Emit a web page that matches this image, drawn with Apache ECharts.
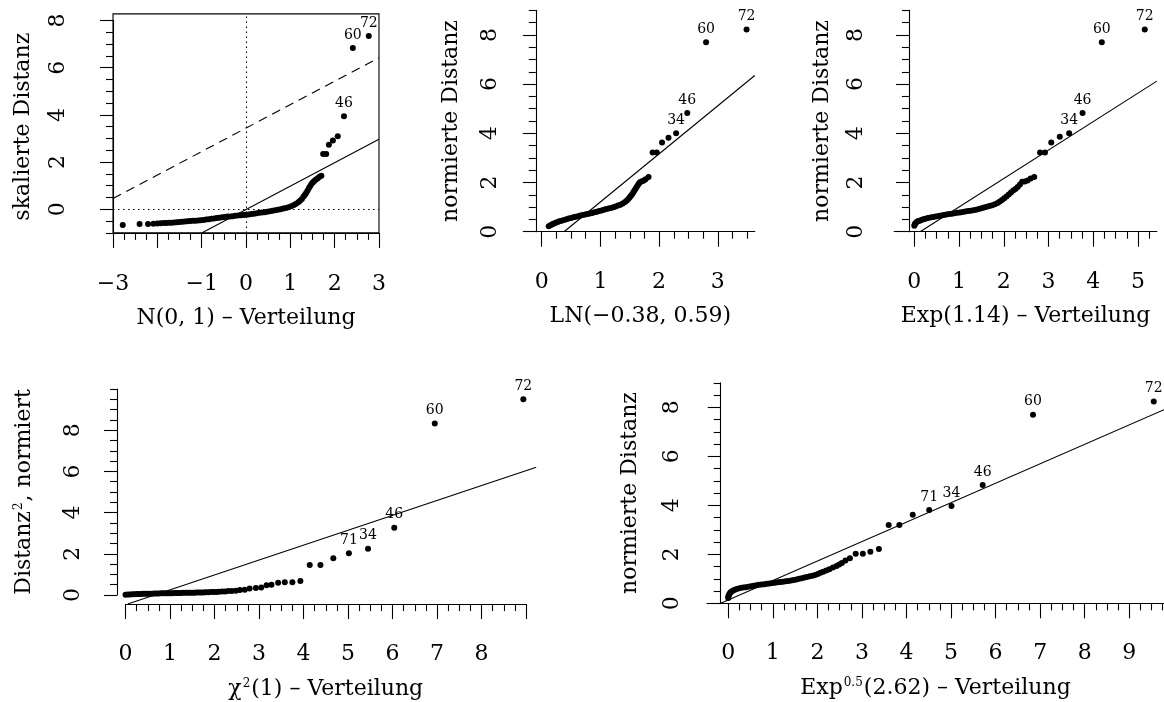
<!DOCTYPE html>
<html>
<head>
<meta charset="utf-8">
<script src="https://cdn.jsdelivr.net/npm/echarts@6.0.0/dist/echarts.min.js"></script>
<style>
  html, body { margin: 0; padding: 0; background: #fff; }
  #chart { width: 1164px; height: 702px; }
</style>
</head>
<body>
<div id="chart"></div>
<script>
var FONT = 'DejaVu Serif';

// --- N(0,1) panel: skalierte Distanz vs. normal quantiles
var normPts = [[-2.78,-0.66],[-2.40,-0.62],[-2.21,-0.62],[-2.09,-0.61],[-2.00,-0.60],[-1.93,-0.59],[-1.86,-0.585],[-1.80,-0.58],
  [-1.74,-0.57],[-1.68,-0.565],[-1.62,-0.555],[-1.56,-0.545],[-1.50,-0.54],[-1.44,-0.53],[-1.38,-0.52],[-1.32,-0.51],[-1.26,-0.50],
  [-1.20,-0.49],[-1.14,-0.48],[-1.08,-0.47],[-1.02,-0.46],[-0.96,-0.45],[-0.90,-0.43],[-0.84,-0.42],[-0.78,-0.40],[-0.72,-0.39],
  [-0.66,-0.37],[-0.60,-0.36],[-0.54,-0.34],[-0.48,-0.33],[-0.42,-0.31],[-0.36,-0.30],[-0.30,-0.29],[-0.24,-0.27],[-0.18,-0.26],
  [-0.12,-0.25],[-0.06,-0.24],[0.00,-0.23],[0.06,-0.22],[0.12,-0.20],[0.18,-0.19],[0.24,-0.17],[0.30,-0.15],[0.36,-0.14],
  [0.42,-0.12],[0.48,-0.10],[0.54,-0.08],[0.60,-0.06],[0.66,-0.04],[0.72,-0.02],[0.78,0.00],[0.84,0.03],[0.90,0.06],[0.96,0.09],
  [1.02,0.13],[1.08,0.18],[1.13,0.24],[1.18,0.30],[1.22,0.36],[1.26,0.44],[1.30,0.54],[1.33,0.62],[1.36,0.70],[1.39,0.80],
  [1.42,0.90],[1.45,0.99],[1.48,1.08],[1.51,1.15],[1.54,1.20],[1.58,1.26],[1.62,1.32],[1.66,1.38],[1.70,1.42],
  [1.74,2.34],[1.81,2.34],[1.87,2.73],[1.96,2.91],[2.07,3.10]];
var normIds = [[2.21,3.94,'46'],[2.41,6.83,'60'],[2.77,7.34,'72']];
var normFit = [[-1,-1.0],[3,2.97]];
var normUpper = [[-3,0.46],[3,6.42]];

// --- LN(-0.38, 0.59) panel
var lnPts = [[0.12,0.22],[0.15,0.26],[0.18,0.30],[0.21,0.33],[0.24,0.36],[0.27,0.39],[0.30,0.42],[0.34,0.45],[0.38,0.48],
  [0.42,0.51],[0.46,0.535],[0.50,0.56],[0.54,0.585],[0.58,0.61],[0.62,0.63],[0.66,0.655],[0.70,0.68],[0.74,0.70],[0.78,0.72],
  [0.82,0.74],[0.86,0.765],[0.90,0.79],[0.94,0.81],[0.98,0.84],[1.02,0.86],[1.06,0.89],[1.10,0.92],[1.14,0.94],[1.18,0.96],
  [1.22,0.99],[1.26,1.02],[1.30,1.06],[1.34,1.10],[1.38,1.15],[1.42,1.21],[1.45,1.27],[1.48,1.34],[1.50,1.40],[1.52,1.46],
  [1.54,1.52],[1.56,1.59],[1.58,1.67],[1.60,1.75],[1.62,1.83],[1.64,1.90],[1.66,1.97],[1.68,2.02],[1.71,2.05],[1.74,2.08],
  [1.77,2.13],[1.82,2.22],[1.89,3.22],[1.96,3.22],[2.05,3.63],[2.16,3.82]];
var lnIds = [[2.29,4.00,'34'],[2.48,4.83,'46'],[2.80,7.70,'60'],[3.49,8.22,'72']];
var lnFit = [[0.38,0],[3.63,6.35]];

// --- Exp(1.14) panel
var expPts = [[0.00,0.24],[0.01,0.29],[0.02,0.33],[0.04,0.37],[0.06,0.40],[0.09,0.43],[0.12,0.45],[0.16,0.48],[0.20,0.51],
  [0.25,0.53],[0.30,0.56],[0.36,0.58],[0.42,0.60],[0.48,0.62],[0.54,0.64],[0.60,0.66],[0.66,0.68],[0.72,0.70],[0.78,0.715],
  [0.84,0.73],[0.90,0.75],[0.96,0.77],[1.02,0.785],[1.08,0.80],[1.14,0.82],[1.20,0.84],[1.26,0.855],[1.32,0.87],[1.38,0.89],
  [1.44,0.92],[1.50,0.95],[1.56,0.98],[1.62,1.01],[1.68,1.04],[1.74,1.08],[1.80,1.12],[1.86,1.17],[1.91,1.23],[1.96,1.29],
  [2.01,1.36],[2.06,1.43],[2.11,1.51],[2.16,1.59],[2.21,1.67],[2.26,1.74],[2.31,1.82],[2.36,1.92],[2.41,2.03],[2.47,2.04],
  [2.53,2.08],[2.60,2.16],[2.68,2.22],[2.81,3.22],[2.92,3.22],[3.06,3.63],[3.25,3.86]];
var expIds = [[3.46,4.00,'34'],[3.76,4.83,'46'],[4.19,7.70,'60'],[5.15,8.22,'72']];
var expFit = [[0.13,0],[5.42,6.12]];

// --- chi^2(1) panel
var chiPts = [[0.00,0.01],[0.05,0.02],[0.10,0.03],[0.15,0.035],[0.20,0.04],[0.25,0.045],[0.30,0.05],[0.35,0.05],[0.40,0.055],
  [0.45,0.06],[0.50,0.06],[0.55,0.065],[0.60,0.065],[0.65,0.07],[0.70,0.07],[0.75,0.075],[0.80,0.08],[0.85,0.08],[0.90,0.085],
  [0.95,0.085],[1.00,0.09],[1.05,0.09],[1.10,0.095],[1.15,0.095],[1.20,0.10],[1.25,0.10],[1.30,0.105],[1.35,0.105],[1.40,0.11],
  [1.45,0.11],[1.50,0.115],[1.55,0.115],[1.60,0.12],[1.65,0.12],[1.70,0.125],[1.75,0.125],[1.80,0.13],[1.86,0.135],[1.92,0.14],
  [1.98,0.145],[2.04,0.15],[2.10,0.16],[2.17,0.165],[2.24,0.175],[2.31,0.19],[2.39,0.20],[2.48,0.21],[2.57,0.24],[2.68,0.26],
  [2.79,0.31],[2.93,0.34],[3.05,0.36],[3.17,0.47],[3.28,0.50],[3.43,0.59],[3.58,0.62],[3.75,0.62],[3.93,0.68],[4.14,1.46],
  [4.38,1.46],[4.67,1.79]];
var chiIds = [[5.02,2.03,'71'],[5.45,2.24,'34'],[6.04,3.26,'46'],[6.95,8.33,'60'],[8.94,9.50,'72']];
var chiFit = [[0.05,-0.44],[9.23,6.20]];

// --- Exp^0.5(2.62) panel
var sqPts = [[0.00,0.22],[0.00,0.27],[0.01,0.32],[0.02,0.37],[0.04,0.42],[0.06,0.46],[0.09,0.50],[0.12,0.53],[0.16,0.56],
  [0.21,0.59],[0.27,0.62],[0.33,0.64],[0.39,0.66],[0.45,0.68],[0.51,0.70],[0.57,0.72],[0.63,0.74],[0.69,0.755],[0.75,0.77],
  [0.81,0.78],[0.87,0.80],[0.93,0.81],[0.99,0.83],[1.05,0.84],[1.11,0.855],[1.17,0.87],[1.23,0.88],[1.29,0.90],[1.35,0.91],
  [1.41,0.93],[1.47,0.95],[1.53,0.97],[1.59,1.00],[1.65,1.02],[1.71,1.05],[1.77,1.07],[1.83,1.10],[1.89,1.12],[1.95,1.16],
  [2.01,1.20],[2.07,1.25],[2.13,1.29],[2.20,1.34],[2.27,1.39],[2.35,1.46],[2.43,1.52],[2.49,1.58],[2.55,1.64],[2.63,1.75],
  [2.73,1.84],[2.86,2.02],[3.02,2.02],[3.19,2.10],[3.38,2.22],[3.60,3.20],[3.84,3.20],[4.14,3.61]];
var sqIds = [[4.51,3.81,'71'],[5.01,3.97,'34'],[5.71,4.83,'46'],[6.84,7.70,'60'],[9.55,8.24,'72']];
var sqFit = [[-0.17,0],[9.78,7.90]];

// tick labels
var yMajor = [0, 2, 4, 6, 8];
var normXLabels = [-3, -1, 0, 1, 2, 3];
var lnXLabels = [0, 1, 2, 3];
var expXLabels = [0, 1, 2, 3, 4, 5];
var chiXLabels = [0, 1, 2, 3, 4, 5, 6, 7, 8];
var sqXLabels = [0, 1, 2, 3, 4, 5, 6, 7, 8, 9];

function steps(a, b, h, skip) {
  var out = [];
  for (var v = a; v <= b + 1e-9; v += h) {
    var r = Math.round(v * 100) / 100;
    if (!skip || skip.indexOf(r) < 0) out.push(r);
  }
  return out;
}

// pixel layout: x0/y0 = pixel of value 0, sx/sy = px per unit
var panels = [
  { L: {x0:246, sx:44.33, y0:209.3, sy:23.6, px:[-3,3], py:[-1,8.28], box:true, xAt:-1, xs:[-3,3], yAt:-3, ys:[-1,8],
        xm:40, xg:74, ym:44, yg:79},
    xMaj: steps(-3,3,1), xMin: steps(-3,3,0.25,steps(-3,3,1)), xLab: normXLabels,
    yMaj: yMajor, yMin: steps(-1,8,0.5,yMajor),
    xName: 'N(0, 1) – Verteilung', yName: 'skalierte Distanz',
    pts: normPts, ids: normIds, lines: [[normFit,'solid'],[normUpper,[9,6]]], zero: true },
  { L: {x0:541.7, sx:58.7, y0:231.7, sy:24.6, px:[-0.27,3.63], py:[0,9.3], xAt:0, xs:[-0.27,3.63], yAt:-0.10, ys:[0,9],
        xm:40, xg:74, ym:35, yg:74},
    xMaj: steps(0,3,1), xMin: steps(0,3.5,0.25,steps(0,3,1)), xLab: lnXLabels,
    yMaj: yMajor, yMin: steps(0,9,0.5,yMajor),
    xName: 'LN(−0.38, 0.59)', yName: 'normierte Distanz',
    pts: lnPts, ids: lnIds, lines: [[lnFit,'solid']] },
  { L: {x0:914.3, sx:44.75, y0:231.7, sy:24.6, px:[-0.45,5.42], py:[0,9.3], xAt:0, xs:[-0.45,5.42], yAt:-0.12, ys:[0,9],
        xm:40, xg:74, ym:42, yg:76},
    xMaj: steps(0,5,1), xMin: steps(0,5.25,0.25,steps(0,5,1)), xLab: expXLabels,
    yMaj: yMajor, yMin: steps(0,9,0.5,yMajor),
    xName: 'Exp(1.14) – Verteilung', yName: 'normierte Distanz',
    pts: expPts, ids: expIds, lines: [[expFit,'solid']] },
  { L: {x0:125.5, sx:44.5, y0:595, sy:20.6, px:[-0.19,9.23], py:[-0.44,10.1], xAt:-0.44, xs:[0,9], yAt:-0.19, ys:[0,10],
        xm:39, xg:74, ym:33, yg:82},
    xMaj: steps(0,9,1), xMin: steps(0,9,0.25,steps(0,9,1)), xLab: chiXLabels,
    yMaj: yMajor, yMin: steps(0,10,0.5,yMajor),
    xName: 'χ{s|2}(1) – Verteilung', yName: 'Distanz{s|2}, normiert',
    pts: chiPts, ids: chiIds, lines: [[chiFit,'solid']] },
  { L: {x0:728.3, sx:44.6, y0:603.3, sy:24.5, px:[-0.48,9.78], py:[0,9.3], xAt:0, xs:[-0.48,9.78], yAt:-0.17, ys:[0,9],
        xm:39, xg:74, ym:37, yg:79},
    xMaj: steps(0,9,1), xMin: steps(0,9.75,0.25,steps(0,9,1)), xLab: sqXLabels,
    yMaj: yMajor, yMin: steps(0,9,0.5,yMajor),
    xName: 'Exp{s|0.5}(2.62) – Verteilung', yName: 'normierte Distanz',
    pts: sqPts, ids: sqIds, lines: [[sqFit,'solid']] }
];

var nameStyle = {
  fontFamily: FONT, fontSize: 22, color: '#000',
  rich: { s: { fontFamily: FONT, fontSize: 12, color: '#000', verticalAlign: 'top', padding: [0, 1, 10, 1] } }
};
var black = { color: '#000', width: 1.1 };

function fmt(v) { return String(v).replace('-', '\u2212'); }
function hidden(grid, range) {
  return { type: 'value', gridIndex: grid, min: range[0], max: range[1], show: false, splitLine: { show: false } };
}

var grids = [], xAxes = [], yAxes = [], series = [];

panels.forEach(function (p) {
  var L = p.L;
  var g = grids.length;
  grids.push({ left: L.x0 + L.px[0] * L.sx, top: L.y0 - L.py[1] * L.sy,
    width: (L.px[1] - L.px[0]) * L.sx, height: (L.py[1] - L.py[0]) * L.sy,
    show: !!L.box, borderColor: '#000', borderWidth: 1.1, backgroundColor: 'transparent' });
  var xb = L.y0 - L.xAt * L.sy;
  grids.push({ left: L.x0 + L.xs[0] * L.sx, top: xb - 10, width: (L.xs[1] - L.xs[0]) * L.sx, height: 10 });
  grids.push({ left: L.x0 + L.yAt * L.sx, top: L.y0 - L.ys[1] * L.sy, width: 10, height: (L.ys[1] - L.ys[0]) * L.sy });

  var xi = xAxes.length, yi = yAxes.length;
  xAxes.push(hidden(g, L.px));
  yAxes.push(hidden(g, L.py));
  // x axis: major ticks + labels, then minor ticks
  xAxes.push({ type: 'value', gridIndex: g + 1, position: 'bottom', min: L.xs[0], max: L.xs[1],
    axisLine: { show: true, lineStyle: black },
    axisTick: { show: true, length: 15, customValues: p.xMaj, lineStyle: black },
    axisLabel: { show: true, customValues: p.xLab, margin: L.xm, formatter: fmt, showMinLabel: true, showMaxLabel: true,
      fontFamily: FONT, fontSize: 22, color: '#000' },
    splitLine: { show: false },
    name: p.xName, nameLocation: 'middle', nameGap: L.xg, nameTextStyle: nameStyle });
  xAxes.push({ type: 'value', gridIndex: g + 1, position: 'bottom', min: L.xs[0], max: L.xs[1],
    axisLine: { show: false }, axisLabel: { show: false }, splitLine: { show: false },
    axisTick: { show: true, length: 7, customValues: p.xMin, lineStyle: black } });
  yAxes.push(hidden(g + 1, [0, 1]));
  xAxes.push(hidden(g + 2, [0, 1]));
  // y axis
  yAxes.push({ type: 'value', gridIndex: g + 2, position: 'left', min: L.ys[0], max: L.ys[1],
    axisLine: { show: true, lineStyle: black },
    axisTick: { show: true, length: 13, customValues: p.yMaj, lineStyle: black },
    axisLabel: { show: true, customValues: p.yMaj, margin: L.ym, rotate: 90, formatter: fmt,
      fontFamily: FONT, fontSize: 22, color: '#000' },
    splitLine: { show: false },
    name: p.yName, nameLocation: 'middle', nameGap: L.yg, nameTextStyle: nameStyle });
  yAxes.push({ type: 'value', gridIndex: g + 2, position: 'left', min: L.ys[0], max: L.ys[1],
    axisLine: { show: false }, axisLabel: { show: false }, splitLine: { show: false },
    axisTick: { show: true, length: 7, customValues: p.yMin, lineStyle: black } });

  var dots = { type: 'scatter', xAxisIndex: xi, yAxisIndex: yi, data: p.pts, symbol: 'circle', symbolSize: 6,
    itemStyle: { color: '#000', opacity: 1 }, silent: true };
  if (p.zero) {
    dots.markLine = { silent: true, symbol: 'none', label: { show: false },
      lineStyle: { color: '#000', width: 1.1, type: [1.5, 3.5], opacity: 1 }, data: [{ xAxis: 0 }, { yAxis: 0 }] };
  }
  series.push(dots);
  series.push({ type: 'scatter', xAxisIndex: xi, yAxisIndex: yi, data: p.ids, symbol: 'circle', symbolSize: 6,
    itemStyle: { color: '#000', opacity: 1 }, silent: true,
    label: { show: true, position: 'top', distance: 3, formatter: function (q) { return q.value[2]; },
      fontFamily: FONT, fontSize: 14, color: '#000' } });
  p.lines.forEach(function (ln) {
    series.push({ type: 'line', xAxisIndex: xi, yAxisIndex: yi, data: ln[0], showSymbol: false, symbol: 'none',
      silent: true, clip: true, lineStyle: { color: '#000', width: 1.1, type: ln[1], opacity: 1 } });
  });
});

var myChart = echarts.init(document.getElementById('chart'), null, { renderer: 'canvas' });
myChart.setOption({
  animation: false,
  backgroundColor: '#fff',
  textStyle: { fontFamily: FONT },
  grid: grids,
  xAxis: xAxes,
  yAxis: yAxes,
  series: series
});
</script>
</body>
</html>
